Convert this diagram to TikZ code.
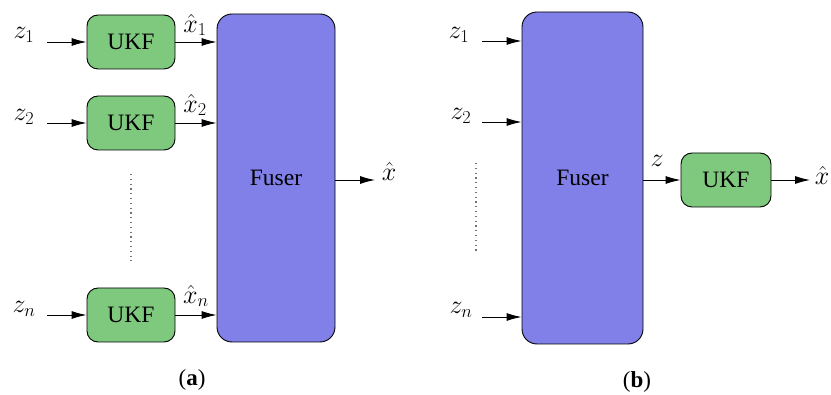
\RequirePackage{fix-cm}
\documentclass[tikz,border=0pt]{standalone}
\usepackage{fontspec}
\setmainfont{Liberation Serif}
\usetikzlibrary{arrows.meta}
\definecolor{ukfgreen}{RGB}{127,201,127}
\definecolor{fuserblue}{RGB}{128,128,232}
\begin{document}
\begin{tikzpicture}[x=1pt,y=-1pt,
  every node/.style={font=\fontsize{23.5}{28}\selectfont},
  ukf/.style={draw, line width=0.9pt, fill=ukfgreen, rounded corners=11pt,
    minimum width=88pt, minimum height=54pt, inner sep=0pt},
  fuser/.style={draw, line width=0.9pt, fill=fuserblue, rounded corners=15pt, inner sep=0pt},
  sig/.style={line width=0.9pt, -{Latex[length=15pt,width=8pt]}},
  lbl/.style={inner sep=0pt, font=\fontsize{26}{30}\selectfont},
  vdots/.style={line width=1.4pt, black!55, dash pattern=on 1.2pt off 3.6pt},
  subcap/.style={font=\fontsize{23}{27}\selectfont}]
\useasboundingbox (0,0) rectangle (831,395);

% ---------- (a) one UKF per sensor, then fusion ----------
\node[fuser, minimum width=118pt, minimum height=328pt] (fa) at (276,178) {Fuser};
\node[ukf] (u1) at (131,42) {UKF};
\node[ukf] (u2) at (131,123) {UKF};
\node[ukf] (un) at (131,315) {UKF};

\coordinate (a1) at (47,42);
\coordinate (a2) at (47,123);
\coordinate (an) at (47,315);
\node[lbl] (za1) at (24,35) {$z_1$};
\node[lbl] (za2) at (24,117) {$z_2$};
\node[lbl] (zan) at (24,309) {$z_n$};
\draw[sig] (a1) -- (u1);
\draw[sig] (a2) -- (u2);
\draw[sig] (an) -- (un);

\draw[sig] (u1.east) -- (u1.east -| fa.west);
\draw[sig] (u2.east) -- (u2.east -| fa.west);
\draw[sig] (un.east) -- (un.east -| fa.west);
\node[lbl] (xh1) at (195,25) {$\hat{x}_1$};
\node[lbl] (xh2) at (195,105) {$\hat{x}_2$};
\node[lbl] (xhn) at (196,296) {$\hat{x}_n$};

\coordinate (dta) at (131,174);
\coordinate (dba) at (131,261);
\draw[vdots] (dta) -- (dba);

\coordinate (oa) at (375,180);
\draw[sig] (fa.east |- oa) -- (oa);
\node[lbl] (xha) at (389,171) {$\hat{x}$};

\node[subcap] (capa) at (192,380) {(\textbf{a})};

% ---------- (b) fusion first, then one UKF ----------
\node[fuser, minimum width=121pt, minimum height=332pt] (fb) at (582.5,178) {Fuser};

\coordinate (b1) at (482,41);
\coordinate (b2) at (482,122);
\coordinate (bn) at (482,317);
\node[lbl] (zb1) at (459,35) {$z_1$};
\node[lbl] (zb2) at (461,116) {$z_2$};
\node[lbl] (zbn) at (461,310) {$z_n$};
\draw[sig] (b1) -- (b1 -| fb.west);
\draw[sig] (b2) -- (b2 -| fb.west);
\draw[sig] (bn) -- (bn -| fb.west);

\coordinate (dtb) at (476,163);
\coordinate (dbb) at (476,252);
\draw[vdots] (dtb) -- (dbb);

\node[ukf, minimum width=90pt] (ub) at (726,180) {UKF};
\draw[sig] (fb.east |- ub) -- (ub);
\node[lbl] (zb) at (657,161) {$z$};

\coordinate (ob) at (810,180);
\draw[sig] (ub) -- (ob);
\node[lbl] (xhb) at (822,175) {$\hat{x}$};

\node[subcap] (capb) at (637,382) {(\textbf{b})};
\end{tikzpicture}
\end{document}
